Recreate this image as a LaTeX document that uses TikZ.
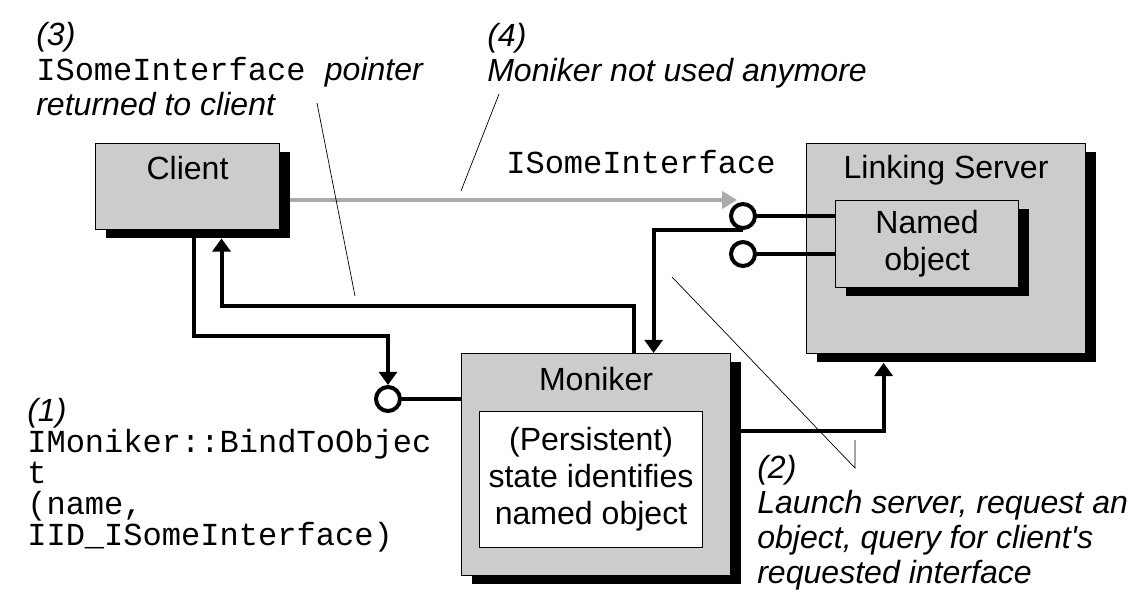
\documentclass[tikz,border=0pt]{standalone}
\usepackage{fontspec}
\setmainfont{Liberation Sans}
\setmonofont{Liberation Mono}
\usepackage{tikz}
\usetikzlibrary{arrows.meta, positioning, shadows, backgrounds}
\definecolor{boxgray}{RGB}{204,204,204}
\definecolor{linkgray}{RGB}{170,170,170}
\newcommand{\code}[1]{{\upshape\ttfamily #1}}

\begin{document}
\begin{tikzpicture}[
  x=0.025cm, y=-0.025cm,
  font=\fontsize{22.8}{26.3}\selectfont,
  box/.style={rectangle, draw, line width=0.7pt, fill=boxgray, inner sep=0pt,
              drop shadow={shadow xshift=0.27cm, shadow yshift=-0.21cm,
                           fill=black, opacity=1}},
  title/.style={inner sep=0pt},
  statebox/.style={rectangle, draw, line width=0.7pt, fill=white,
                   align=center, inner sep=0pt},
  port/.style={circle, draw, line width=0.1cm, fill=white,
               minimum size=0.6cm, inner sep=0pt},
  conn/.style={line width=0.1cm},
  arr/.style={conn, -{Triangle[length=0.33cm, width=0.45cm]}},
  grayarr/.style={line width=0.1cm, draw=linkgray,
                  -{Triangle[length=0.37cm, width=0.42cm]}},
  lead/.style={line width=0.5pt},
  % notes sit on the baseline of their last line
  ann/.style={inner sep=0pt, anchor=base west, align=left,
              font=\fontsize{22.8}{24.8}\selectfont\itshape},
]
\useasboundingbox (0,0) rectangle (1136,607);

% client, server and moniker boxes
\node[box, minimum width=4.6cm, minimum height=2.15cm, anchor=north west] (client) at (95,143) {};
\node[title, below=0.33cm of client.north] (client-t) {Client};

\node[box, minimum width=6.975cm, minimum height=5.25cm, anchor=north west] (server) at (806,143) {};
\node[title, below=0.29cm of server.north] (server-t) {Linking Server};
\node[box, minimum width=4.575cm, minimum height=2.175cm, anchor=north west,
      align=center] (named) at (835,200) {Named\\object};

\node[box, minimum width=6.725cm, minimum height=5.55cm, anchor=north west] (moniker) at (461,353) {};
\node[title, below=0.34cm of moniker.north] (moniker-t) {Moniker};
\node[statebox, minimum width=5.575cm, minimum height=3.4cm, anchor=north west]
  (state) at (479,411) {(Persistent)\\state identifies\\named object};

% interface lollipops
\node[port] (ifc-a) at (743,216) {};
\node[port] (ifc-b) at (743,254) {};
\node[port] (bind) at (388,399) {};

\draw[conn] (ifc-a) -- (named.west |- ifc-a);
\draw[conn] (ifc-b) -- (named.west |- ifc-b);
\draw[conn] (bind) -- (moniker.west |- bind);

% calls
\draw[arr] ([xshift=0.15cm]client.south) -- ++(0,106) -| (bind.north);
\draw[arr] ([xshift=0.96cm]moniker.north) -- ++(0,-47)
  -| ([xshift=0.85cm, yshift=-0.21cm]client.south);
\draw[arr] (ifc-a.south) -| ([xshift=1.44cm]moniker.north);
\draw[arr] ([yshift=0.85cm]moniker.east)
  -| ([xshift=-1.56cm, yshift=-0.22cm]server.south);

% direct connection after binding
\coordinate (ifc-tip) at (737,200);
\begin{pgfonlayer}{background}
\draw[grayarr] (client.east |- ifc-tip) -- (ifc-tip);
\end{pgfonlayer}
\node[inner sep=0pt, anchor=base west, font=\fontsize{22.8}{26.3}\selectfont\ttfamily]
  (ifc-name) at (506,173) {ISomeInterface};

% numbered notes
\node[ann] (note3) at (36,115)
  {(3)\\\code{ISomeInterface }pointer\\returned to client};
\node[ann] (note4) at (487,81) {(4)\\Moniker not used anymore};
\node[ann, font=\fontsize{22.8}{22}\selectfont\itshape] (note1) at (27,545)
  {(1)\\\code{IMoniker::BindToObjec}\\\code{t}\\\code{(name,}\\\code{IID\_ISomeInterface)}};
\node[ann] (note2) at (757,583)
  {(2)\\Launch server, request an\\object, query for client\textquotesingle s\\requested interface};

% leader lines
\coordinate (lead3a) at (317,103);
\coordinate (lead3b) at (355,296);
\coordinate (lead4a) at (499,94);
\coordinate (lead4b) at (461,191);
\coordinate (lead2a) at (672,277);
\coordinate (lead2b) at (855,468);
\coordinate (lead2c) at (855,440);
\draw[lead] (lead3a) -- (lead3b);
\draw[lead] (lead4a) -- (lead4b);
\draw[lead] (lead2a) -- (lead2b) -- (lead2c);

\end{tikzpicture}
\end{document}
